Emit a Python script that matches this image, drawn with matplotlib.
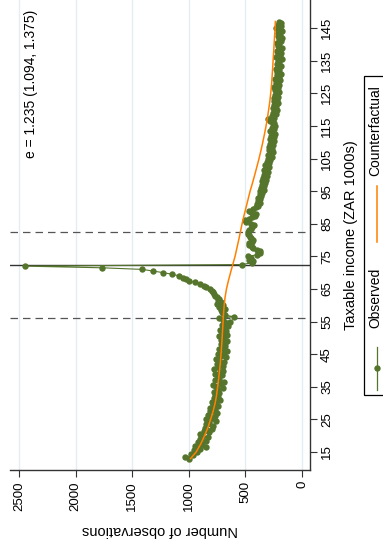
import numpy as np
import matplotlib.pyplot as plt
from matplotlib.lines import Line2D
from matplotlib.patches import Rectangle

plt.rcParams['font.family'] = ['Liberation Sans', 'DejaVu Sans']

# taxable income bins (ZAR 1000s), half-thousand bin width
income = np.arange(13.0, 147.5, 0.5)

observed = [
    1000, 1030, 960, 985, 930, 955, 900, 845, 945, 880,
    915, 850, 900, 830, 880, 905, 820, 870, 800, 855,
    790, 850, 820, 760, 845, 800, 770, 835, 755, 810,
    770, 815, 745, 790, 760, 800, 725, 780, 740, 765,
    730, 775, 745, 700, 760, 785, 720, 690, 765, 735,
    745, 705, 770, 725, 695, 780, 740, 700, 755, 690,
    730, 760, 675, 715, 745, 690, 665, 735, 700, 680,
    720, 685, 660, 715, 690, 735, 665, 705, 675, 725,
    695, 650, 710, 670, 640, 700, 730, 605, 680, 695,
    705, 720, 685, 735, 700, 750, 715, 745, 730, 755,
    765, 775, 790, 800, 815, 845, 870, 900, 945, 995,
    1027, 1053, 1086, 1145, 1225, 1318, 1410, 1770, 2446, 532,
    445, 430, 470, 455, 475, 400, 375, 370, 395, 435,
    445, 465, 470, 445, 430, 450, 460, 470, 480, 475,
    470, 455, 440, 425, 455, 495, 505, 470, 440, 415,
    410, 450, 465, 430, 405, 390, 400, 375, 390, 370,
    385, 360, 375, 350, 370, 340, 365, 335, 355, 325,
    350, 320, 345, 310, 340, 325, 300, 335, 310, 290,
    325, 295, 310, 280, 305, 270, 300, 285, 260, 295,
    270, 290, 255, 280, 265, 245, 285, 250, 275, 240,
    265, 280, 245, 270, 235, 260, 250, 280, 305, 245,
    265, 230, 255, 240, 220, 255, 230, 250, 215, 245,
    225, 250, 210, 240, 220, 200, 235, 215, 245, 205,
    230, 210, 195, 235, 205, 225, 190, 220, 200, 230,
    205, 185, 225, 200, 215, 180, 230, 195, 210, 185,
    220, 195, 175, 215, 200, 225, 190, 205, 180, 215,
    195, 215, 180, 205, 230, 190, 210, 185, 200,
]

# polynomial counterfactual, tabulated every 2.5
cf_income = [13, 15, 17.5, 20, 22.5, 25, 27.5, 30, 32.5, 35, 37.5, 40,
             42.5, 45, 47.5, 50, 52.5, 55, 57.5, 60, 62.5, 65, 67.5, 70,
             72.5, 75, 77.5, 80, 82.5, 85, 87.5, 90, 92.5, 95, 97.5, 100,
             102.5, 105, 107.5, 110, 112.5, 115, 117.5, 120, 122.5, 125,
             127.5, 130, 132.5, 135, 137.5, 140, 142.5, 145, 147]
counterfactual = [985, 936, 895, 862, 832, 808, 786, 768, 755, 746, 737, 729,
                  722, 716, 711, 706, 702, 698, 694, 688, 680, 668, 651, 632,
                  612, 592, 576, 560, 545, 530, 513, 495, 477, 459, 438, 418,
                  399, 380, 363, 347, 332, 318, 306, 295, 285, 277,
                  270, 265, 260, 256, 251, 247, 243, 238, 236]

threshold = 72.25
window = [56.0, 82.5]
count_ticks = [0, 500, 1000, 1500, 2000, 2500]
income_ticks = list(range(15, 146, 10))

green = '#55752d'
orange = '#ff8000'

W, H = 383, 546
fig = plt.figure(figsize=(W / 100, H / 100), dpi=100)
ax = fig.add_axes([10 / W, 76 / H, 300 / W, 470 / H])

# the whole graph is laid on its side: income runs up, counts run right-to-left
ax.plot(observed, income, '-o', color=green, lw=0.8, ms=4.6, mew=0, zorder=3)
ax.plot(counterfactual, cf_income, '-', color=orange, lw=1.1, zorder=4)

for v in window:
    ax.axhline(v, color='#555555', lw=0.9, ls=(0, (6, 4)), zorder=2)
ax.axhline(threshold, color='#333333', lw=1.0, zorder=2)

ax.set_xlim(2580, -70)
ax.set_ylim(9.5, 153.6)

ax.set_xticks(count_ticks)
ax.set_yticks(income_ticks)
ax.xaxis.grid(True, color='#e4edf1', lw=1.0)
ax.set_axisbelow(True)

ax.yaxis.tick_right()
ax.yaxis.set_label_position('right')
for s in ['left', 'top']:
    ax.spines[s].set_visible(False)
for s in ['right', 'bottom']:
    ax.spines[s].set_color('#333333')
    ax.spines[s].set_linewidth(1.0)

ax.tick_params(axis='both', direction='out', length=5, width=0.8,
               color='#333333', labelsize=9.5, pad=3)
for lab in ax.get_xticklabels():
    lab.set_rotation(90)
    lab.set_va('top')
    lab.set_ha('center')
for lab in ax.get_yticklabels():
    lab.set_rotation(90)
    lab.set_va('center')
    lab.set_ha('left')

ax.set_xlabel('Number of observations', rotation=180, fontsize=10.5, labelpad=9)
ax.set_ylabel('Taxable income (ZAR 1000s)', rotation=90, fontsize=10.5, labelpad=8)

ax.text(0.07, 0.821, 'e = 1.235 (1.094, 1.375)', transform=ax.transAxes,
        rotation=90, ha='center', va='center', fontsize=10)

# legend, turned with the rest of the graph
def fx(px):
    return px / W

def fy(py):
    return 1 - py / H

fig.add_artist(Rectangle((fx(364), fy(395)), fx(40), fy(76) - fy(395),
                         transform=fig.transFigure, facecolor='white',
                         edgecolor='black', lw=0.9, clip_on=False))
fig.add_artist(Line2D([fx(376.5), fx(376.5)], [fy(390), fy(347)],
                      transform=fig.transFigure, color=green, lw=0.9))
fig.add_artist(Line2D([fx(376.5)], [fy(368)], transform=fig.transFigure,
                      color=green, marker='o', ms=4.6, mew=0))
fig.add_artist(Line2D([fx(376.5), fx(376.5)], [fy(242), fy(186)],
                      transform=fig.transFigure, color=orange, lw=1.1))
fig.text(fx(375), fy(298), 'Observed', rotation=90, ha='center', va='center', fontsize=10)
fig.text(fx(375), fy(131), 'Counterfactual', rotation=90, ha='center', va='center', fontsize=10)

fig.savefig('out.png', dpi=100)
